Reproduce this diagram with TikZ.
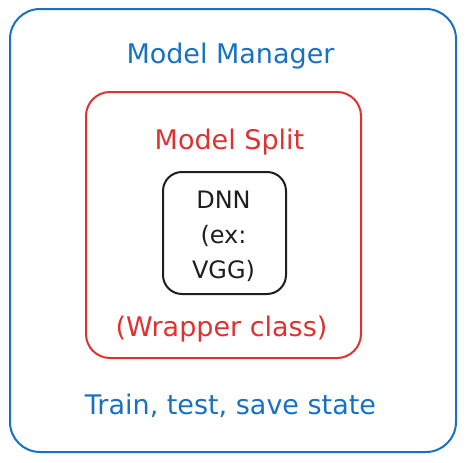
\documentclass[tikz,border=0pt]{standalone}
\usepackage{fontspec}
\setmainfont{DejaVu Sans}
\usetikzlibrary{positioning}
\definecolor{mgrblue}{HTML}{1971C2}
\definecolor{splitred}{HTML}{E03131}
\definecolor{inkblack}{HTML}{1E1E1E}
\tikzset{
  mgrbox/.style   = {draw=mgrblue, line width=2pt, rounded corners=30pt,
                     inner sep=0pt, minimum width=446pt, minimum height=443pt},
  splitbox/.style = {draw=splitred, line width=2pt, rounded corners=24pt,
                     inner sep=0pt, minimum width=275pt, minimum height=266pt},
  dnnbox/.style   = {draw=inkblack, line width=2pt, rounded corners=19pt,
                     inner sep=0pt, minimum width=123pt, minimum height=122pt},
  mgrlabel/.style = {text=mgrblue, font=\fontsize{27}{30}\selectfont,
                     anchor=base, inner sep=0pt},
  splitlabel/.style = {text=splitred, font=\fontsize{27}{30}\selectfont,
                     anchor=base, inner sep=0pt},
  dnnlabel/.style = {text=inkblack, font=\fontsize{24}{35}\selectfont,
                     align=center, inner sep=0pt}
}

\begin{document}
\begin{tikzpicture}[x=1pt, y=-1pt]
  \useasboundingbox (0,0) rectangle (466,463);
  % outer frame
  \node[mgrbox] (manager) at (233,230.5) {};
  \node[mgrlabel] (managertitle) at (230.5,63) {Model Manager};
  \node[mgrlabel] (managerops) at (230.5,414) {Train, test, save state};
  % wrapper
  \node[splitbox] (split) at (223.5,225) {};
  \node[splitlabel] (splittitle) at (229.5,149) {Model Split};
  \node[splitlabel] (splitnote) at (221.5,336) {(Wrapper class)};
  % network
  \node[dnnbox] (dnn) at (224.5,233) {};
  \node[dnnlabel] (dnntext) at (223.5,236) {DNN\\(ex:\\VGG)};
\end{tikzpicture}
\end{document}
